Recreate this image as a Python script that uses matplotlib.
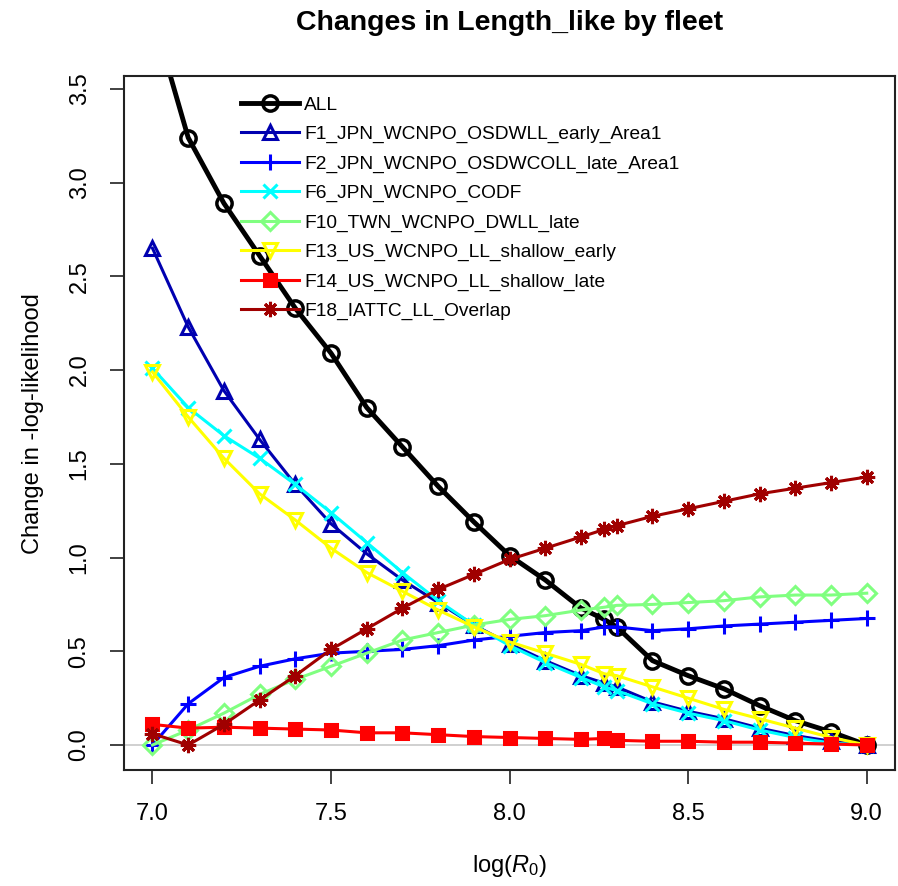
import numpy as np
import matplotlib
matplotlib.use("Agg")
import matplotlib.pyplot as plt

plt.rcParams['font.family'] = ['Liberation Sans', 'DejaVu Sans']
plt.rcParams['mathtext.fontset'] = 'custom'
plt.rcParams['mathtext.rm'] = 'Liberation Sans'
plt.rcParams['mathtext.it'] = 'Liberation Sans:italic'

# profile values of log(R0)
r0 = [7.0, 7.1, 7.2, 7.3, 7.4, 7.5, 7.6, 7.7, 7.8, 7.9, 8.0, 8.1, 8.2, 8.265,
      8.3, 8.4, 8.5, 8.6, 8.7, 8.8, 8.9, 9.0]

# change in -log-likelihood per fleet
all_like = [3.90, 3.24, 2.89, 2.61, 2.33, 2.09, 1.80, 1.59, 1.38, 1.19, 1.01,
            0.88, 0.73, 0.67, 0.63, 0.45, 0.37, 0.30, 0.21, 0.13, 0.07, 0.0]
f1 = [2.65, 2.23, 1.89, 1.63, 1.39, 1.18, 1.02, 0.88, 0.76, 0.64, 0.54, 0.45,
      0.37, 0.33, 0.31, 0.23, 0.18, 0.14, 0.09, 0.05, 0.02, 0.0]
f2 = [0.0, 0.22, 0.36, 0.42, 0.46, 0.49, 0.50, 0.51, 0.53, 0.56, 0.58, 0.60,
      0.61, 0.63, 0.63, 0.61, 0.62, 0.635, 0.645, 0.655, 0.665, 0.675]
f6 = [2.01, 1.80, 1.65, 1.53, 1.39, 1.24, 1.08, 0.92, 0.77, 0.64, 0.53, 0.44,
      0.36, 0.31, 0.29, 0.22, 0.17, 0.13, 0.08, 0.04, 0.01, 0.0]
f10 = [0.0, 0.08, 0.17, 0.27, 0.35, 0.42, 0.49, 0.56, 0.60, 0.64, 0.67, 0.69,
       0.72, 0.735, 0.745, 0.75, 0.76, 0.77, 0.79, 0.80, 0.80, 0.81]
f13 = [1.99, 1.75, 1.53, 1.34, 1.20, 1.05, 0.92, 0.82, 0.72, 0.63, 0.55, 0.49,
       0.43, 0.38, 0.37, 0.31, 0.25, 0.19, 0.14, 0.09, 0.04, 0.0]
f14 = [0.11, 0.09, 0.095, 0.09, 0.085, 0.08, 0.065, 0.065, 0.055, 0.045, 0.04,
       0.035, 0.03, 0.035, 0.025, 0.02, 0.02, 0.015, 0.015, 0.01, 0.005, 0.0]
f18 = [0.06, 0.0, 0.11, 0.24, 0.37, 0.51, 0.62, 0.73, 0.83, 0.91, 0.99, 1.05,
       1.11, 1.15, 1.17, 1.22, 1.26, 1.30, 1.34, 1.37, 1.40, 1.43]

nombres = ['ALL', 'F1_JPN_WCNPO_OSDWLL_early_Area1', 'F2_JPN_WCNPO_OSDWCOLL_late_Area1',
           'F6_JPN_WCNPO_CODF', 'F10_TWN_WCNPO_DWLL_late', 'F13_US_WCNPO_LL_shallow_early',
           'F14_US_WCNPO_LL_shallow_late', 'F18_IATTC_LL_Overlap']
series = [all_like, f1, f2, f6, f10, f13, f14, f18]
colores = ['black', '#0000B0', '#0000FF', '#00FFFF', '#80FF80', '#FFFF00', '#FF0000', '#A00000']
marcas = ['o', '^', '+', 'x', 'D', 'v', 's', (8, 2, 0)]
rellenos = ['none', 'none', None, None, 'none', 'none', None, None]
tamanos = [11, 10, 12, 10, 9, 10, 9, 11]

fig = plt.figure(figsize=(8.98, 8.86), dpi=100)
ax = fig.add_axes([0.138, 0.131, 0.859, 0.783])

ax.axhline(0, color='#C8C8C8', lw=1.2, zorder=0)

for i in range(len(series)):
    lw = 3.5 if i == 0 else 2.2
    kw = dict(color=colores[i], lw=lw, marker=marcas[i], markersize=tamanos[i],
              markeredgewidth=2.5 if i == 0 else 2.2, label=nombres[i])
    if rellenos[i] is not None:
        kw['markerfacecolor'] = rellenos[i]
    ax.plot(r0, series[i], **kw)

ax.set_xlim(6.92, 9.08)
ax.set_ylim(-0.133, 3.568)
ax.set_xticks([7.0, 7.5, 8.0, 8.5, 9.0])
ax.set_xticklabels(['7.0', '7.5', '8.0', '8.5', '9.0'])
ax.set_yticks([0.0, 0.5, 1.0, 1.5, 2.0, 2.5, 3.0, 3.5])
ax.set_yticklabels(['0.0', '0.5', '1.0', '1.5', '2.0', '2.5', '3.0', '3.5'],
                   rotation=90, va='center')
ax.tick_params(axis='both', labelsize=17, length=10, width=1.3, color='#333333', pad=14)
for s in ax.spines.values():
    s.set_linewidth(1.5)
    s.set_color('#222222')

ax.set_xlabel(r'log($R_0$)', fontsize=17, labelpad=20)
ax.set_ylabel('Change in -log-likelihood', fontsize=17, labelpad=18)
ax.set_title('Changes in Length_like by fleet', fontsize=20.5, fontweight='bold', pad=33)

ax.legend(loc='upper left', bbox_to_anchor=(0.26, 0.9), bbox_transform=fig.transFigure,
          frameon=False, fontsize=13.8, handlelength=3.0, handletextpad=0.3,
          labelspacing=0.62, borderaxespad=0)

fig.savefig('out.png', dpi=100)
